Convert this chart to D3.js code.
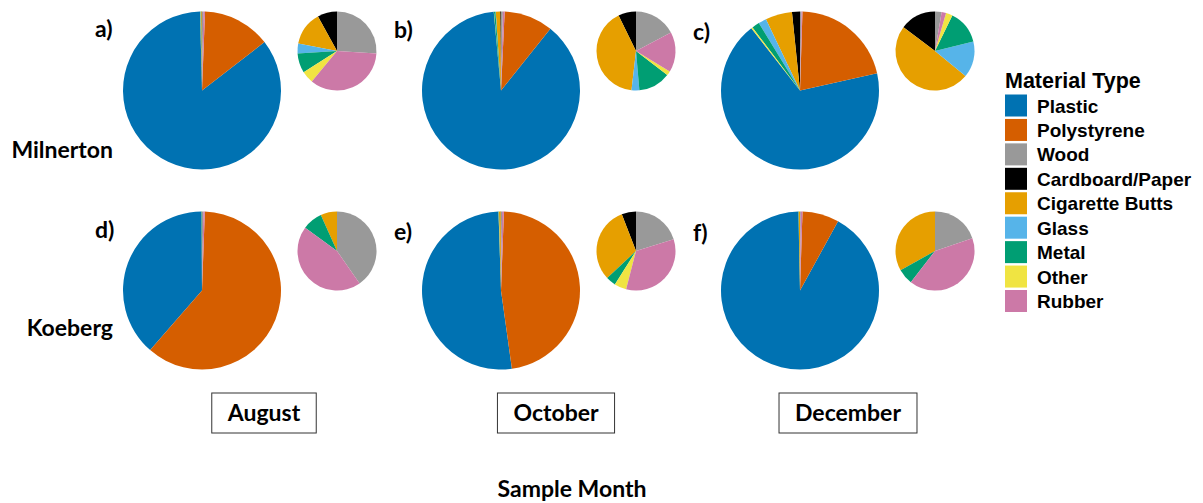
<!DOCTYPE html>
<html>
<head>
<meta charset="utf-8">
<script src="https://cdn.jsdelivr.net/npm/d3@7"></script>
<style>
  html, body { margin: 0; padding: 0; background: #ffffff; }
  svg { display: block; }
</style>
</head>
<body>
<svg id="chart" width="1203" height="503"></svg>
<script>
// Material categories (legend order) and their colours
const materials = ["Plastic", "Polystyrene", "Wood", "Cardboard/Paper", "Cigarette Butts", "Glass", "Metal", "Other", "Rubber"];
const materialColors = ["#0072B2", "#D55E00", "#999999", "#000000", "#E69F00", "#56B4E9", "#009E73", "#F0E442", "#CC79A7"];

// Sites (rows) and sample months (columns)
const sites = ["Milnerton", "Koeberg"];
const months = ["August", "October", "December"];
const panelTags = [["a)", "b)", "c)"], ["d)", "e)", "f)"]];

// Percentage of litter items per material, in the same order as `materials`
const milnertonAugust   = [85.1, 13.9, 0.26, 0.08, 0.14, 0.04, 0.08, 0.05, 0.35];
const milnertonOctober  = [87.8, 10.0, 0.38, 0.16, 0.90, 0.07, 0.29, 0.04, 0.36];
const milnertonDecember = [67.9, 21.0, 0.30, 1.63, 5.46, 1.64, 1.54, 0.30, 0.20];
const koebergAugust     = [38.5, 60.8, 0.27, 0.00, 0.045, 0.00, 0.055, 0.00, 0.30];
const koebergOctober    = [51.7, 47.2, 0.22, 0.064, 0.34, 0.00, 0.044, 0.054, 0.37];
const koebergDecember   = [91.7, 7.5, 0.164, 0.00, 0.275, 0.00, 0.053, 0.00, 0.338];

const panelValues = [
  [milnertonAugust, milnertonOctober, milnertonDecember],
  [koebergAugust, koebergOctober, koebergDecember]
];

// Slices run clockwise from 12 o'clock in reverse alphabetical order
const sliceOrder = ["Wood", "Rubber", "Polystyrene", "Plastic", "Other", "Metal", "Glass", "Cigarette Butts", "Cardboard/Paper"];
// The inset pie shows only the minor materials
const majorMaterials = ["Plastic", "Polystyrene"];

const svg = d3.select("#chart");
const color = d3.scaleOrdinal().domain(materials).range(materialColors);

const colX = d3.scalePoint().domain(months).range([202, 800]);
const rowY = d3.scalePoint().domain(sites).range([90.5, 290.5]);
const boxX = d3.scalePoint().domain(months).range([264, 848]);

const mainR = 79;
const insetR = 39.5;
const insetDx = 135;
const insetDy = -39.5;

const pie = d3.pie()
  .sort((a, b) => sliceOrder.indexOf(a.material) - sliceOrder.indexOf(b.material))
  .value(d => d.value);
const mainArc = d3.arc().innerRadius(0).outerRadius(mainR);
const insetArc = d3.arc().innerRadius(0).outerRadius(insetR);

const labelFont = "Lato, 'Open Sans', sans-serif";
const labelSize = 23;

sites.forEach((site, si) => {
  months.forEach((month, mi) => {
    const vals = panelValues[si][mi];
    const rows = materials.map((m, i) => ({ material: m, value: vals[i] }));
    const cx = colX(month), cy = rowY(site);

    const g = svg.append("g").attr("transform", `translate(${cx},${cy})`);
    g.selectAll("path")
      .data(pie(rows.filter(d => d.value > 0)))
      .join("path")
      .attr("d", mainArc)
      .attr("fill", d => color(d.data.material));

    const minor = rows.filter(d => !majorMaterials.includes(d.material) && d.value > 0);
    const gi = svg.append("g").attr("transform", `translate(${cx + insetDx},${cy + insetDy})`);
    gi.selectAll("path")
      .data(pie(minor))
      .join("path")
      .attr("d", insetArc)
      .attr("fill", d => color(d.data.material));

    svg.append("text")
      .attr("x", cx - 107)
      .attr("y", cy - 54 + (mi * 1.5) + (si * 1.5))
      .attr("font-family", labelFont)
      .attr("font-weight", "bold")
      .attr("font-size", labelSize)
      .attr("fill", "#000")
      .text(panelTags[si][mi]);
  });
});

// Site names at the left of each row
svg.selectAll("text.site")
  .data(sites)
  .join("text")
  .attr("class", "site")
  .attr("x", 113)
  .attr("y", d => rowY(d) + (d === "Milnerton" ? 67 : 45))
  .attr("text-anchor", "end")
  .attr("font-family", labelFont)
  .attr("font-weight", "bold")
  .attr("font-size", labelSize)
  .attr("fill", "#000")
  .text(d => d);

// Month labels in boxes
months.forEach(month => {
  const t = svg.append("text")
    .attr("x", boxX(month))
    .attr("y", 421)
    .attr("text-anchor", "middle")
    .attr("font-family", labelFont)
    .attr("font-weight", "bold")
    .attr("font-size", labelSize)
    .attr("fill", "#000")
    .text(month);
  const w = t.node().getComputedTextLength() + 32;
  svg.insert("rect", "text")
    .attr("x", boxX(month) - w / 2)
    .attr("y", 393)
    .attr("width", w)
    .attr("height", 40)
    .attr("fill", "#fff")
    .attr("stroke", "#333")
    .attr("stroke-width", 1);
});

// Shared x-axis title
svg.append("text")
  .attr("x", 572)
  .attr("y", 497)
  .attr("text-anchor", "middle")
  .attr("font-family", labelFont)
  .attr("font-weight", "bold")
  .attr("font-size", labelSize)
  .attr("fill", "#000")
  .text("Sample Month");

// Legend
const legend = svg.append("g").attr("transform", "translate(1005,0)");
legend.append("text")
  .attr("x", 0)
  .attr("y", 87.5)
  .attr("font-family", "'Liberation Sans', Arial, sans-serif")
  .attr("font-weight", "bold")
  .attr("font-size", 21.5)
  .attr("fill", "#000")
  .text("Material Type");

const legendY = d3.scalePoint().domain(materials).range([94.5, 290]);
const items = legend.selectAll("g.item")
  .data(materials)
  .join("g")
  .attr("class", "item")
  .attr("transform", d => `translate(0,${legendY(d)})`);
items.append("rect")
  .attr("width", 22)
  .attr("height", 22)
  .attr("fill", d => color(d));
items.append("text")
  .attr("x", 32)
  .attr("y", 18)
  .attr("font-family", "'Liberation Sans', Arial, sans-serif")
  .attr("font-weight", "bold")
  .attr("font-size", 19)
  .attr("fill", "#000")
  .text(d => d);
</script>
</body>
</html>
